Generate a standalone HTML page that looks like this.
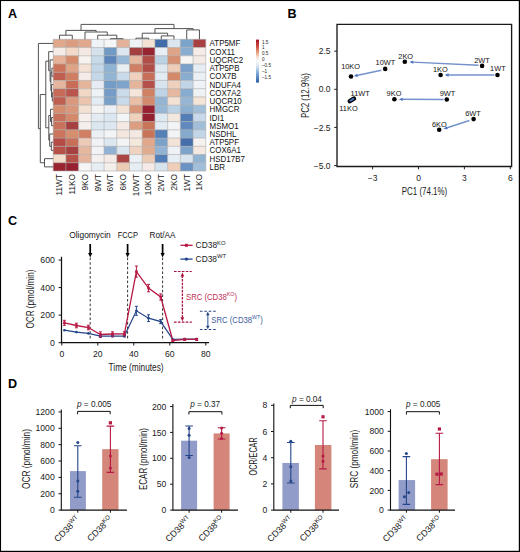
<!DOCTYPE html>
<html><head><meta charset="utf-8"><style>
html,body{margin:0;padding:0;background:#fff;}
body{width:520px;height:552px;overflow:hidden;}
svg{display:block;font-family:"Liberation Sans", sans-serif;}
</style></head><body>
<svg width="520" height="552" viewBox="0 0 520 552">
<rect width="520" height="552" fill="#fff"/>
<g id="panelA">
<text x="8" y="18.2" font-size="12.6" font-weight="bold" fill="#000">A</text>
<rect x="53.20" y="39.30" width="12.72" height="8.23" fill="#e0a88b"/>
<rect x="65.92" y="39.30" width="12.72" height="8.23" fill="#da9d80"/>
<rect x="78.63" y="39.30" width="12.72" height="8.23" fill="#e0a88c"/>
<rect x="91.35" y="39.30" width="12.72" height="8.23" fill="#eff2f6"/>
<rect x="104.07" y="39.30" width="12.72" height="8.23" fill="#f4f6f8"/>
<rect x="116.78" y="39.30" width="12.72" height="8.23" fill="#e3b299"/>
<rect x="129.50" y="39.30" width="12.72" height="8.23" fill="#eef2f6"/>
<rect x="142.22" y="39.30" width="12.72" height="8.23" fill="#f3e1d3"/>
<rect x="154.93" y="39.30" width="12.72" height="8.23" fill="#416ba9"/>
<rect x="167.65" y="39.30" width="12.72" height="8.23" fill="#dce6f0"/>
<rect x="180.37" y="39.30" width="12.72" height="8.23" fill="#7ca3ca"/>
<rect x="193.08" y="39.30" width="12.72" height="8.23" fill="#a74042"/>
<rect x="53.20" y="47.53" width="12.72" height="8.23" fill="#f6ece7"/>
<rect x="65.92" y="47.53" width="12.72" height="8.23" fill="#f2d9c8"/>
<rect x="78.63" y="47.53" width="12.72" height="8.23" fill="#f4e9e2"/>
<rect x="91.35" y="47.53" width="12.72" height="8.23" fill="#d5e2ed"/>
<rect x="104.07" y="47.53" width="12.72" height="8.23" fill="#719ac5"/>
<rect x="116.78" y="47.53" width="12.72" height="8.23" fill="#dbe6f0"/>
<rect x="129.50" y="47.53" width="12.72" height="8.23" fill="#a54041"/>
<rect x="142.22" y="47.53" width="12.72" height="8.23" fill="#962431"/>
<rect x="154.93" y="47.53" width="12.72" height="8.23" fill="#e9eef5"/>
<rect x="167.65" y="47.53" width="12.72" height="8.23" fill="#dfa387"/>
<rect x="180.37" y="47.53" width="12.72" height="8.23" fill="#8aaed0"/>
<rect x="193.08" y="47.53" width="12.72" height="8.23" fill="#f5ece7"/>
<rect x="53.20" y="55.76" width="12.72" height="8.23" fill="#e5b297"/>
<rect x="65.92" y="55.76" width="12.72" height="8.23" fill="#d58b69"/>
<rect x="78.63" y="55.76" width="12.72" height="8.23" fill="#f5f2f0"/>
<rect x="91.35" y="55.76" width="12.72" height="8.23" fill="#c6daea"/>
<rect x="104.07" y="55.76" width="12.72" height="8.23" fill="#5c85bc"/>
<rect x="116.78" y="55.76" width="12.72" height="8.23" fill="#98b8d7"/>
<rect x="129.50" y="55.76" width="12.72" height="8.23" fill="#e6b8a0"/>
<rect x="142.22" y="55.76" width="12.72" height="8.23" fill="#b04d47"/>
<rect x="154.93" y="55.76" width="12.72" height="8.23" fill="#bbd2e5"/>
<rect x="167.65" y="55.76" width="12.72" height="8.23" fill="#d69071"/>
<rect x="180.37" y="55.76" width="12.72" height="8.23" fill="#f6f5f4"/>
<rect x="193.08" y="55.76" width="12.72" height="8.23" fill="#f5ebe6"/>
<rect x="53.20" y="63.99" width="12.72" height="8.23" fill="#cc7459"/>
<rect x="65.92" y="63.99" width="12.72" height="8.23" fill="#dfa385"/>
<rect x="78.63" y="63.99" width="12.72" height="8.23" fill="#f4e1d3"/>
<rect x="91.35" y="63.99" width="12.72" height="8.23" fill="#c3d7e8"/>
<rect x="104.07" y="63.99" width="12.72" height="8.23" fill="#8fb3d3"/>
<rect x="116.78" y="63.99" width="12.72" height="8.23" fill="#e7eef4"/>
<rect x="129.50" y="63.99" width="12.72" height="8.23" fill="#d07f64"/>
<rect x="142.22" y="63.99" width="12.72" height="8.23" fill="#b24e48"/>
<rect x="154.93" y="63.99" width="12.72" height="8.23" fill="#dee8f1"/>
<rect x="167.65" y="63.99" width="12.72" height="8.23" fill="#edcdb8"/>
<rect x="180.37" y="63.99" width="12.72" height="8.23" fill="#7aa1c9"/>
<rect x="193.08" y="63.99" width="12.72" height="8.23" fill="#e7edf4"/>
<rect x="53.20" y="72.22" width="12.72" height="8.23" fill="#c05f50"/>
<rect x="65.92" y="72.22" width="12.72" height="8.23" fill="#d07e62"/>
<rect x="78.63" y="72.22" width="12.72" height="8.23" fill="#f5ebe7"/>
<rect x="91.35" y="72.22" width="12.72" height="8.23" fill="#c5d8e9"/>
<rect x="104.07" y="72.22" width="12.72" height="8.23" fill="#92b4d3"/>
<rect x="116.78" y="72.22" width="12.72" height="8.23" fill="#c9daea"/>
<rect x="129.50" y="72.22" width="12.72" height="8.23" fill="#efd1be"/>
<rect x="142.22" y="72.22" width="12.72" height="8.23" fill="#c86f59"/>
<rect x="154.93" y="72.22" width="12.72" height="8.23" fill="#e4ecf3"/>
<rect x="167.65" y="72.22" width="12.72" height="8.23" fill="#d4896a"/>
<rect x="180.37" y="72.22" width="12.72" height="8.23" fill="#89adcf"/>
<rect x="193.08" y="72.22" width="12.72" height="8.23" fill="#ebf0f5"/>
<rect x="53.20" y="80.46" width="12.72" height="8.23" fill="#e6b59d"/>
<rect x="65.92" y="80.46" width="12.72" height="8.23" fill="#c86e58"/>
<rect x="78.63" y="80.46" width="12.72" height="8.23" fill="#e4b49b"/>
<rect x="91.35" y="80.46" width="12.72" height="8.23" fill="#e5ecf3"/>
<rect x="104.07" y="80.46" width="12.72" height="8.23" fill="#739cc6"/>
<rect x="116.78" y="80.46" width="12.72" height="8.23" fill="#7fa4cb"/>
<rect x="129.50" y="80.46" width="12.72" height="8.23" fill="#e5b59b"/>
<rect x="142.22" y="80.46" width="12.72" height="8.23" fill="#b4514a"/>
<rect x="154.93" y="80.46" width="12.72" height="8.23" fill="#d8e5ef"/>
<rect x="167.65" y="80.46" width="12.72" height="8.23" fill="#efd0bc"/>
<rect x="180.37" y="80.46" width="12.72" height="8.23" fill="#c1d5e7"/>
<rect x="193.08" y="80.46" width="12.72" height="8.23" fill="#eff2f6"/>
<rect x="53.20" y="88.69" width="12.72" height="8.23" fill="#c66b58"/>
<rect x="65.92" y="88.69" width="12.72" height="8.23" fill="#b9554c"/>
<rect x="78.63" y="88.69" width="12.72" height="8.23" fill="#f1d7c6"/>
<rect x="91.35" y="88.69" width="12.72" height="8.23" fill="#eff2f6"/>
<rect x="104.07" y="88.69" width="12.72" height="8.23" fill="#749cc6"/>
<rect x="116.78" y="88.69" width="12.72" height="8.23" fill="#cadbea"/>
<rect x="129.50" y="88.69" width="12.72" height="8.23" fill="#f5e5db"/>
<rect x="142.22" y="88.69" width="12.72" height="8.23" fill="#d08063"/>
<rect x="154.93" y="88.69" width="12.72" height="8.23" fill="#bfd4e7"/>
<rect x="167.65" y="88.69" width="12.72" height="8.23" fill="#e6b89f"/>
<rect x="180.37" y="88.69" width="12.72" height="8.23" fill="#88accf"/>
<rect x="193.08" y="88.69" width="12.72" height="8.23" fill="#f0f3f6"/>
<rect x="53.20" y="96.92" width="12.72" height="8.23" fill="#be5f52"/>
<rect x="65.92" y="96.92" width="12.72" height="8.23" fill="#da997d"/>
<rect x="78.63" y="96.92" width="12.72" height="8.23" fill="#eac4ad"/>
<rect x="91.35" y="96.92" width="12.72" height="8.23" fill="#e3ebf3"/>
<rect x="104.07" y="96.92" width="12.72" height="8.23" fill="#789fc8"/>
<rect x="116.78" y="96.92" width="12.72" height="8.23" fill="#c8daea"/>
<rect x="129.50" y="96.92" width="12.72" height="8.23" fill="#e9bfa7"/>
<rect x="142.22" y="96.92" width="12.72" height="8.23" fill="#d3896c"/>
<rect x="154.93" y="96.92" width="12.72" height="8.23" fill="#94b4d3"/>
<rect x="167.65" y="96.92" width="12.72" height="8.23" fill="#f4e2d5"/>
<rect x="180.37" y="96.92" width="12.72" height="8.23" fill="#96b6d4"/>
<rect x="193.08" y="96.92" width="12.72" height="8.23" fill="#f4e3d7"/>
<rect x="53.20" y="105.15" width="12.72" height="8.23" fill="#d58d6f"/>
<rect x="65.92" y="105.15" width="12.72" height="8.23" fill="#d9987c"/>
<rect x="78.63" y="105.15" width="12.72" height="8.23" fill="#f3e1d4"/>
<rect x="91.35" y="105.15" width="12.72" height="8.23" fill="#f4f4f5"/>
<rect x="104.07" y="105.15" width="12.72" height="8.23" fill="#e9eff5"/>
<rect x="116.78" y="105.15" width="12.72" height="8.23" fill="#f3e3d7"/>
<rect x="129.50" y="105.15" width="12.72" height="8.23" fill="#d89578"/>
<rect x="142.22" y="105.15" width="12.72" height="8.23" fill="#962130"/>
<rect x="154.93" y="105.15" width="12.72" height="8.23" fill="#97b7d5"/>
<rect x="167.65" y="105.15" width="12.72" height="8.23" fill="#bbd2e5"/>
<rect x="180.37" y="105.15" width="12.72" height="8.23" fill="#8bafd0"/>
<rect x="193.08" y="105.15" width="12.72" height="8.23" fill="#a1bfd9"/>
<rect x="53.20" y="113.38" width="12.72" height="8.23" fill="#c7705b"/>
<rect x="65.92" y="113.38" width="12.72" height="8.23" fill="#d4896a"/>
<rect x="78.63" y="113.38" width="12.72" height="8.23" fill="#f6efeb"/>
<rect x="91.35" y="113.38" width="12.72" height="8.23" fill="#e3ebf3"/>
<rect x="104.07" y="113.38" width="12.72" height="8.23" fill="#dae6f0"/>
<rect x="116.78" y="113.38" width="12.72" height="8.23" fill="#f3f4f6"/>
<rect x="129.50" y="113.38" width="12.72" height="8.23" fill="#efd0bb"/>
<rect x="142.22" y="113.38" width="12.72" height="8.23" fill="#942130"/>
<rect x="154.93" y="113.38" width="12.72" height="8.23" fill="#dee8f1"/>
<rect x="167.65" y="113.38" width="12.72" height="8.23" fill="#f4e7de"/>
<rect x="180.37" y="113.38" width="12.72" height="8.23" fill="#537eb6"/>
<rect x="193.08" y="113.38" width="12.72" height="8.23" fill="#c6d8e9"/>
<rect x="53.20" y="121.61" width="12.72" height="8.23" fill="#c9725b"/>
<rect x="65.92" y="121.61" width="12.72" height="8.23" fill="#a53f41"/>
<rect x="78.63" y="121.61" width="12.72" height="8.23" fill="#f6eeeb"/>
<rect x="91.35" y="121.61" width="12.72" height="8.23" fill="#dae6f0"/>
<rect x="104.07" y="121.61" width="12.72" height="8.23" fill="#dce7f0"/>
<rect x="116.78" y="121.61" width="12.72" height="8.23" fill="#f4e9e3"/>
<rect x="129.50" y="121.61" width="12.72" height="8.23" fill="#dc9d80"/>
<rect x="142.22" y="121.61" width="12.72" height="8.23" fill="#c87458"/>
<rect x="154.93" y="121.61" width="12.72" height="8.23" fill="#e4ecf3"/>
<rect x="167.65" y="121.61" width="12.72" height="8.23" fill="#f3f4f6"/>
<rect x="180.37" y="121.61" width="12.72" height="8.23" fill="#6189be"/>
<rect x="193.08" y="121.61" width="12.72" height="8.23" fill="#a1bed9"/>
<rect x="53.20" y="129.84" width="12.72" height="8.23" fill="#ca755c"/>
<rect x="65.92" y="129.84" width="12.72" height="8.23" fill="#d68e6e"/>
<rect x="78.63" y="129.84" width="12.72" height="8.23" fill="#d07f62"/>
<rect x="91.35" y="129.84" width="12.72" height="8.23" fill="#ebf0f5"/>
<rect x="104.07" y="129.84" width="12.72" height="8.23" fill="#f3f4f6"/>
<rect x="116.78" y="129.84" width="12.72" height="8.23" fill="#f4e7de"/>
<rect x="129.50" y="129.84" width="12.72" height="8.23" fill="#f4e9e2"/>
<rect x="142.22" y="129.84" width="12.72" height="8.23" fill="#c97459"/>
<rect x="154.93" y="129.84" width="12.72" height="8.23" fill="#557fb7"/>
<rect x="167.65" y="129.84" width="12.72" height="8.23" fill="#f2f3f6"/>
<rect x="180.37" y="129.84" width="12.72" height="8.23" fill="#85aace"/>
<rect x="193.08" y="129.84" width="12.72" height="8.23" fill="#c3d6e8"/>
<rect x="53.20" y="138.07" width="12.72" height="8.23" fill="#b44b46"/>
<rect x="65.92" y="138.07" width="12.72" height="8.23" fill="#c76f58"/>
<rect x="78.63" y="138.07" width="12.72" height="8.23" fill="#eccab7"/>
<rect x="91.35" y="138.07" width="12.72" height="8.23" fill="#f0f2f5"/>
<rect x="104.07" y="138.07" width="12.72" height="8.23" fill="#dde7f0"/>
<rect x="116.78" y="138.07" width="12.72" height="8.23" fill="#f4f4f5"/>
<rect x="129.50" y="138.07" width="12.72" height="8.23" fill="#f4e7dc"/>
<rect x="142.22" y="138.07" width="12.72" height="8.23" fill="#e1a88c"/>
<rect x="154.93" y="138.07" width="12.72" height="8.23" fill="#7ca2c9"/>
<rect x="167.65" y="138.07" width="12.72" height="8.23" fill="#f3e3d6"/>
<rect x="180.37" y="138.07" width="12.72" height="8.23" fill="#456eab"/>
<rect x="193.08" y="138.07" width="12.72" height="8.23" fill="#f6f2ef"/>
<rect x="53.20" y="146.31" width="12.72" height="8.23" fill="#b65049"/>
<rect x="65.92" y="146.31" width="12.72" height="8.23" fill="#a74041"/>
<rect x="78.63" y="146.31" width="12.72" height="8.23" fill="#e5b79e"/>
<rect x="91.35" y="146.31" width="12.72" height="8.23" fill="#f2f3f6"/>
<rect x="104.07" y="146.31" width="12.72" height="8.23" fill="#91b2d2"/>
<rect x="116.78" y="146.31" width="12.72" height="8.23" fill="#dbe6f0"/>
<rect x="129.50" y="146.31" width="12.72" height="8.23" fill="#efd2bf"/>
<rect x="142.22" y="146.31" width="12.72" height="8.23" fill="#e1ab90"/>
<rect x="154.93" y="146.31" width="12.72" height="8.23" fill="#92b3d3"/>
<rect x="167.65" y="146.31" width="12.72" height="8.23" fill="#eef1f6"/>
<rect x="180.37" y="146.31" width="12.72" height="8.23" fill="#7da3ca"/>
<rect x="193.08" y="146.31" width="12.72" height="8.23" fill="#f4e8e0"/>
<rect x="53.20" y="154.54" width="12.72" height="8.23" fill="#f3ddcb"/>
<rect x="65.92" y="154.54" width="12.72" height="8.23" fill="#b65149"/>
<rect x="78.63" y="154.54" width="12.72" height="8.23" fill="#e4b59c"/>
<rect x="91.35" y="154.54" width="12.72" height="8.23" fill="#f4f0ef"/>
<rect x="104.07" y="154.54" width="12.72" height="8.23" fill="#f5eae5"/>
<rect x="116.78" y="154.54" width="12.72" height="8.23" fill="#aa4643"/>
<rect x="129.50" y="154.54" width="12.72" height="8.23" fill="#ebf0f5"/>
<rect x="142.22" y="154.54" width="12.72" height="8.23" fill="#eccbb6"/>
<rect x="154.93" y="154.54" width="12.72" height="8.23" fill="#527db6"/>
<rect x="167.65" y="154.54" width="12.72" height="8.23" fill="#e7eef4"/>
<rect x="180.37" y="154.54" width="12.72" height="8.23" fill="#d8e5ef"/>
<rect x="193.08" y="154.54" width="12.72" height="8.23" fill="#92b4d3"/>
<rect x="53.20" y="162.77" width="12.72" height="8.23" fill="#992330"/>
<rect x="65.92" y="162.77" width="12.72" height="8.23" fill="#962130"/>
<rect x="78.63" y="162.77" width="12.72" height="8.23" fill="#f5f5f5"/>
<rect x="91.35" y="162.77" width="12.72" height="8.23" fill="#e6edf3"/>
<rect x="104.07" y="162.77" width="12.72" height="8.23" fill="#f5efeb"/>
<rect x="116.78" y="162.77" width="12.72" height="8.23" fill="#edccb6"/>
<rect x="129.50" y="162.77" width="12.72" height="8.23" fill="#e6edf3"/>
<rect x="142.22" y="162.77" width="12.72" height="8.23" fill="#f5eae5"/>
<rect x="154.93" y="162.77" width="12.72" height="8.23" fill="#d7e4ee"/>
<rect x="167.65" y="162.77" width="12.72" height="8.23" fill="#eeceb8"/>
<rect x="180.37" y="162.77" width="12.72" height="8.23" fill="#6a92c2"/>
<rect x="193.08" y="162.77" width="12.72" height="8.23" fill="#a2bfd9"/>
<path d="M53.20 39.30V171.00M65.92 39.30V171.00M78.63 39.30V171.00M91.35 39.30V171.00M104.07 39.30V171.00M116.78 39.30V171.00M129.50 39.30V171.00M142.22 39.30V171.00M154.93 39.30V171.00M167.65 39.30V171.00M180.37 39.30V171.00M193.08 39.30V171.00M205.80 39.30V171.00M53.20 39.30H205.80M53.20 47.53H205.80M53.20 55.76H205.80M53.20 63.99H205.80M53.20 72.22H205.80M53.20 80.46H205.80M53.20 88.69H205.80M53.20 96.92H205.80M53.20 105.15H205.80M53.20 113.38H205.80M53.20 121.61H205.80M53.20 129.84H205.80M53.20 138.07H205.80M53.20 146.31H205.80M53.20 154.54H205.80M53.20 162.77H205.80M53.20 171.00H205.80" stroke="#a9a9a9" stroke-width="0.6" fill="none"/>
<text transform="translate(209.6,46.47) scale(0.94,1)" font-size="8.45" fill="#111">ATP5MF</text>
<text transform="translate(209.6,54.70) scale(0.94,1)" font-size="8.45" fill="#111">COX11</text>
<text transform="translate(209.6,62.93) scale(0.94,1)" font-size="8.45" fill="#111">UQCRC2</text>
<text transform="translate(209.6,71.16) scale(0.94,1)" font-size="8.45" fill="#111">ATP5PB</text>
<text transform="translate(209.6,79.39) scale(0.94,1)" font-size="8.45" fill="#111">COX7B</text>
<text transform="translate(209.6,87.62) scale(0.94,1)" font-size="8.45" fill="#111">NDUFA4</text>
<text transform="translate(209.6,95.85) scale(0.94,1)" font-size="8.45" fill="#111">COX7A2</text>
<text transform="translate(209.6,104.08) scale(0.94,1)" font-size="8.45" fill="#111">UQCR10</text>
<text transform="translate(209.6,112.32) scale(0.94,1)" font-size="8.45" fill="#111">HMGCR</text>
<text transform="translate(209.6,120.55) scale(0.94,1)" font-size="8.45" fill="#111">IDI1</text>
<text transform="translate(209.6,128.78) scale(0.94,1)" font-size="8.45" fill="#111">MSMO1</text>
<text transform="translate(209.6,137.01) scale(0.94,1)" font-size="8.45" fill="#111">NSDHL</text>
<text transform="translate(209.6,145.24) scale(0.94,1)" font-size="8.45" fill="#111">ATP5PF</text>
<text transform="translate(209.6,153.47) scale(0.94,1)" font-size="8.45" fill="#111">COX6A1</text>
<text transform="translate(209.6,161.70) scale(0.94,1)" font-size="8.45" fill="#111">HSD17B7</text>
<text transform="translate(209.6,169.93) scale(0.94,1)" font-size="8.45" fill="#111">LBR</text>
<text transform="translate(62.46,174.0) rotate(-90)" text-anchor="end" font-size="8.3" fill="#1a1a1a">11WT</text>
<text transform="translate(75.18,174.0) rotate(-90)" text-anchor="end" font-size="8.3" fill="#1a1a1a">11KO</text>
<text transform="translate(87.89,174.0) rotate(-90)" text-anchor="end" font-size="8.3" fill="#1a1a1a">9KO</text>
<text transform="translate(100.61,174.0) rotate(-90)" text-anchor="end" font-size="8.3" fill="#1a1a1a">9WT</text>
<text transform="translate(113.33,174.0) rotate(-90)" text-anchor="end" font-size="8.3" fill="#1a1a1a">6WT</text>
<text transform="translate(126.04,174.0) rotate(-90)" text-anchor="end" font-size="8.3" fill="#1a1a1a">6KO</text>
<text transform="translate(138.76,174.0) rotate(-90)" text-anchor="end" font-size="8.3" fill="#1a1a1a">10WT</text>
<text transform="translate(151.48,174.0) rotate(-90)" text-anchor="end" font-size="8.3" fill="#1a1a1a">10KO</text>
<text transform="translate(164.19,174.0) rotate(-90)" text-anchor="end" font-size="8.3" fill="#1a1a1a">2WT</text>
<text transform="translate(176.91,174.0) rotate(-90)" text-anchor="end" font-size="8.3" fill="#1a1a1a">2KO</text>
<text transform="translate(189.63,174.0) rotate(-90)" text-anchor="end" font-size="8.3" fill="#1a1a1a">1WT</text>
<text transform="translate(202.34,174.0) rotate(-90)" text-anchor="end" font-size="8.3" fill="#1a1a1a">1KO</text>
<path d="M110.43 39.30V38.70H123.14V39.30M97.71 39.30V35.20H116.78V38.70M84.99 39.30V32.00H107.25V35.20M59.56 39.30V35.20H72.28V39.30M65.92 35.20V30.40H96.12V32.00M135.86 39.30V38.20H148.58V39.30M161.29 39.30V35.90H174.01V39.30M142.22 38.20V33.20H167.65V35.90M186.73 39.30V29.90H199.44V39.30M154.93 33.20V28.60H193.08V29.90M81.02 30.40V24.40H174.01V28.60" stroke="#4a4a4a" stroke-width="0.95" fill="none"/>
<path d="M53.20 92.80H52.30V101.03H53.20M53.20 84.57H51.60V96.92H52.30M53.20 68.11H51.90V76.34H53.20M51.90 72.22H50.90V90.75H51.60M53.20 59.88H50.10V81.49H50.90M53.20 51.65H48.70V70.68H50.10M53.20 117.50H51.60V125.73H53.20M53.20 109.27H50.50V121.61H51.60M53.20 142.19H51.30V150.42H53.20M53.20 133.96H49.70V146.31H51.30M50.50 115.44H48.80V140.13H49.70M48.70 61.16H45.80V127.79H48.80M53.20 158.65H44.50V166.88H53.20M45.80 94.48H40.30V162.77H44.50M53.20 43.42H38.40V128.62H40.30" stroke="#4a4a4a" stroke-width="0.95" fill="none"/>
<defs><linearGradient id="cbar" x1="0" y1="0" x2="0" y2="1"><stop offset="0" stop-color="#a50f26"/><stop offset="0.15" stop-color="#cc4a3e"/><stop offset="0.3" stop-color="#e8a07e"/><stop offset="0.42" stop-color="#f7e6dc"/><stop offset="0.5" stop-color="#f7f7f7"/><stop offset="0.62" stop-color="#d6e6f3"/><stop offset="0.78" stop-color="#7eaad6"/><stop offset="1" stop-color="#2c5ea8"/></linearGradient></defs>
<rect x="256" y="39.6" width="3" height="43" fill="url(#cbar)"/>
<text x="262.0" y="43.55" font-size="4.6" fill="#1a1a1a">1.5</text>
<text x="262.0" y="48.95" font-size="4.6" fill="#1a1a1a">1</text>
<text x="262.0" y="54.85" font-size="4.6" fill="#1a1a1a">0.5</text>
<text x="262.0" y="61.05" font-size="4.6" fill="#1a1a1a">0</text>
<text x="262.0" y="66.85" font-size="4.6" fill="#1a1a1a">–0.5</text>
<text x="262.0" y="72.75" font-size="4.6" fill="#1a1a1a">–1</text>
<text x="262.0" y="78.85" font-size="4.6" fill="#1a1a1a">–1.5</text>
</g>
<g id="panelB">
<text x="287.6" y="18" font-size="12.6" font-weight="bold" fill="#000">B</text>
<path d="M337 24.4H511.6V166.5H337Z" stroke="#1a1a1a" stroke-width="1.35" fill="none"/>
<path d="M334.2 51.17H337" stroke="#222" stroke-width="1"/>
<text x="330.6" y="54.27" text-anchor="end" font-size="8.5" fill="#1a1a1a">2.5</text>
<path d="M334.2 89.30H337" stroke="#222" stroke-width="1"/>
<text x="330.6" y="92.40" text-anchor="end" font-size="8.5" fill="#1a1a1a">0.0</text>
<path d="M334.2 127.42H337" stroke="#222" stroke-width="1"/>
<text x="330.6" y="130.53" text-anchor="end" font-size="8.5" fill="#1a1a1a">−2.5</text>
<path d="M334.2 165.55H337" stroke="#222" stroke-width="1"/>
<text x="330.6" y="168.65" text-anchor="end" font-size="8.5" fill="#1a1a1a">−5.0</text>
<path d="M372.60 166.5V169.3" stroke="#222" stroke-width="1"/>
<text x="372.60" y="180.8" text-anchor="middle" font-size="8.5" fill="#1a1a1a">−3</text>
<path d="M418.50 166.5V169.3" stroke="#222" stroke-width="1"/>
<text x="418.50" y="180.8" text-anchor="middle" font-size="8.5" fill="#1a1a1a">0</text>
<path d="M464.40 166.5V169.3" stroke="#222" stroke-width="1"/>
<text x="464.40" y="180.8" text-anchor="middle" font-size="8.5" fill="#1a1a1a">3</text>
<path d="M510.30 166.5V169.3" stroke="#222" stroke-width="1"/>
<text x="510.30" y="180.8" text-anchor="middle" font-size="8.5" fill="#1a1a1a">6</text>
<text x="424.5" y="194.9" text-anchor="middle" font-size="10" fill="#1a1a1a" textLength="45.5" lengthAdjust="spacingAndGlyphs">PC1 (74.1%)</text>
<text transform="translate(308.9,95.6) rotate(-90)" text-anchor="middle" font-size="10" fill="#1a1a1a" textLength="45" lengthAdjust="spacingAndGlyphs">PC2 (12.9%)</text>
<path d="M381.30 70.30L356.73 75.46" stroke="#7391cc" stroke-width="1.45" fill="none"/><path d="M353.70 76.10L357.18 73.68L357.86 76.91Z" fill="#4f73c0"/>
<path d="M478.50 65.30L412.50 62.15" stroke="#7391cc" stroke-width="1.45" fill="none"/><path d="M409.40 62.00L413.37 60.54L413.22 63.83Z" fill="#4f73c0"/>
<path d="M494.40 75.00L447.80 75.00" stroke="#7391cc" stroke-width="1.45" fill="none"/><path d="M444.70 75.00L448.60 73.35L448.60 76.65Z" fill="#4f73c0"/>
<path d="M443.50 99.50L401.90 99.31" stroke="#7391cc" stroke-width="1.45" fill="none"/><path d="M398.80 99.30L402.71 97.67L402.69 100.97Z" fill="#4f73c0"/>
<path d="M469.40 120.50L446.45 128.03" stroke="#7391cc" stroke-width="1.45" fill="none"/><path d="M443.50 129.00L446.69 126.22L447.72 129.35Z" fill="#4f73c0"/>
<circle cx="404.8" cy="61.8" r="2.3" fill="#000"/>
<circle cx="385.2" cy="68.9" r="2.3" fill="#000"/>
<circle cx="351.0" cy="76.5" r="2.3" fill="#000"/>
<circle cx="482.1" cy="65.9" r="2.3" fill="#000"/>
<circle cx="440.6" cy="75.0" r="2.3" fill="#000"/>
<circle cx="497.5" cy="75.0" r="2.3" fill="#000"/>
<circle cx="394.4" cy="99.3" r="2.3" fill="#000"/>
<circle cx="446.8" cy="99.5" r="2.3" fill="#000"/>
<circle cx="473.6" cy="119.1" r="2.3" fill="#000"/>
<circle cx="439.2" cy="129.8" r="2.3" fill="#000"/>
<path d="M349.8 101.1L353.9 98.6" stroke="#000" stroke-width="4.6" stroke-linecap="round"/>
<path d="M350.4 100.8L353.4 98.9" stroke="#4a74c4" stroke-width="1.9" stroke-linecap="round"/>
<text x="405.7" y="59.0" text-anchor="middle" font-size="7.4" fill="#111">2KO</text>
<text x="385.4" y="65.4" text-anchor="middle" font-size="7.4" fill="#111">10WT</text>
<text x="350.6" y="68.7" text-anchor="middle" font-size="7.4" fill="#111">10KO</text>
<text x="482.0" y="62.7" text-anchor="middle" font-size="7.4" fill="#111">2WT</text>
<text x="440.3" y="72.0" text-anchor="middle" font-size="7.4" fill="#111">1KO</text>
<text x="497.9" y="71.2" text-anchor="middle" font-size="7.4" fill="#111">1WT</text>
<text x="394.0" y="96.3" text-anchor="middle" font-size="7.4" fill="#111">9KO</text>
<text x="447.5" y="96.3" text-anchor="middle" font-size="7.4" fill="#111">9WT</text>
<text x="473.0" y="116.3" text-anchor="middle" font-size="7.4" fill="#111">6WT</text>
<text x="439.3" y="126.7" text-anchor="middle" font-size="7.4" fill="#111">6KO</text>
<text x="360.2" y="95.6" text-anchor="middle" font-size="7.4" fill="#111">11WT</text>
<text x="348.5" y="110.7" text-anchor="middle" font-size="7.4" fill="#111">11KO</text>
</g>
<g id="panelC">
<text x="8.0" y="225.2" font-size="12.6" font-weight="bold" fill="#000">C</text>
<path d="M61.5 256.8V342.7H209" stroke="#111" stroke-width="1.25" fill="none"/>
<path d="M58.6 342.70H61.5" stroke="#111" stroke-width="1"/>
<text x="54.8" y="345.80" text-anchor="end" font-size="8.7" fill="#1a1a1a">0</text>
<path d="M58.6 315.14H61.5" stroke="#111" stroke-width="1"/>
<text x="54.8" y="318.24" text-anchor="end" font-size="8.7" fill="#1a1a1a">200</text>
<path d="M58.6 287.58H61.5" stroke="#111" stroke-width="1"/>
<text x="54.8" y="290.68" text-anchor="end" font-size="8.7" fill="#1a1a1a">400</text>
<path d="M58.6 260.02H61.5" stroke="#111" stroke-width="1"/>
<text x="54.8" y="263.12" text-anchor="end" font-size="8.7" fill="#1a1a1a">600</text>
<path d="M61.80 342.7V345.5" stroke="#111" stroke-width="1"/>
<text x="61.80" y="357" text-anchor="middle" font-size="8.6" fill="#1a1a1a">0</text>
<path d="M97.80 342.7V345.5" stroke="#111" stroke-width="1"/>
<text x="97.80" y="357" text-anchor="middle" font-size="8.6" fill="#1a1a1a">20</text>
<path d="M133.80 342.7V345.5" stroke="#111" stroke-width="1"/>
<text x="133.80" y="357" text-anchor="middle" font-size="8.6" fill="#1a1a1a">40</text>
<path d="M169.80 342.7V345.5" stroke="#111" stroke-width="1"/>
<text x="169.80" y="357" text-anchor="middle" font-size="8.6" fill="#1a1a1a">60</text>
<path d="M205.80 342.7V345.5" stroke="#111" stroke-width="1"/>
<text x="205.80" y="357" text-anchor="middle" font-size="8.6" fill="#1a1a1a">80</text>
<text x="136.1" y="371" text-anchor="middle" font-size="10" fill="#1a1a1a" textLength="55" lengthAdjust="spacingAndGlyphs">Time (minutes)</text>
<text transform="translate(34.4,299.1) rotate(-90)" text-anchor="middle" font-size="10" fill="#1a1a1a" textLength="59" lengthAdjust="spacingAndGlyphs">OCR (pmol/min)</text>
<path d="M90.2 244V254" stroke="#000" stroke-width="1.7"/>
<path d="M88.10000000000001 253L92.3 253L90.2 257.4Z" fill="#000"/>
<path d="M90.2 257.6V340.5" stroke="#333" stroke-width="1" stroke-dasharray="2.6 2"/>
<text x="90.0" y="238.4" text-anchor="middle" font-size="9.2" fill="#111" textLength="41.6" lengthAdjust="spacingAndGlyphs">Oligomycin</text>
<path d="M127.6 244V254" stroke="#000" stroke-width="1.7"/>
<path d="M125.5 253L129.7 253L127.6 257.4Z" fill="#000"/>
<path d="M127.6 257.6V340.5" stroke="#333" stroke-width="1" stroke-dasharray="2.6 2"/>
<text x="127.8" y="238.4" text-anchor="middle" font-size="9.2" fill="#111" textLength="20.3" lengthAdjust="spacingAndGlyphs">FCCP</text>
<path d="M162.6 244V254" stroke="#000" stroke-width="1.7"/>
<path d="M160.5 253L164.7 253L162.6 257.4Z" fill="#000"/>
<path d="M162.6 257.6V340.5" stroke="#333" stroke-width="1" stroke-dasharray="2.6 2"/>
<text x="162.5" y="238.4" text-anchor="middle" font-size="9.2" fill="#111" textLength="25.9" lengthAdjust="spacingAndGlyphs">Rot/AA</text>
<polyline points="64.4,330.2 76.4,332.1 88.4,333.4 100.4,336.2 112.5,336.1 124.4,336.1 136.4,310.8 148.5,318.2 160.7,321.6 172.8,339.4 184.7,339.0 196.7,339.0" stroke="#24468a" stroke-width="1.2" fill="none"/>
<polyline points="64.4,322.8 76.4,325.5 88.4,327.5 100.4,334.5 112.5,334.0 124.4,333.8 136.4,271.6 148.5,288.1 160.7,297.0 172.8,340.5 184.7,339.4 196.7,339.4" stroke="#b71a45" stroke-width="1.3" fill="none"/>
<path d="M100.4 335.2V337.2M98.9 335.2H101.9M98.9 337.2H101.9M112.5 335.3V336.9M111.0 335.3H114.0M111.0 336.9H114.0M124.4 335.3V336.9M122.9 335.3H125.9M122.9 336.9H125.9M136.4 306.3V315.3M134.9 306.3H137.9M134.9 315.3H137.9M148.5 314.8V321.6M147.0 314.8H150.0M147.0 321.6H150.0M160.7 319.6V323.6M159.2 319.6H162.2M159.2 323.6H162.2" stroke="#24468a" stroke-width="1" fill="none"/>
<circle cx="64.4" cy="330.2" r="1.3" fill="#24468a"/>
<circle cx="76.4" cy="332.1" r="1.3" fill="#24468a"/>
<circle cx="88.4" cy="333.4" r="1.3" fill="#24468a"/>
<circle cx="100.4" cy="336.2" r="1.3" fill="#24468a"/>
<circle cx="112.5" cy="336.1" r="1.3" fill="#24468a"/>
<circle cx="124.4" cy="336.1" r="1.3" fill="#24468a"/>
<circle cx="136.4" cy="310.8" r="1.3" fill="#24468a"/>
<circle cx="148.5" cy="318.2" r="1.3" fill="#24468a"/>
<circle cx="160.7" cy="321.6" r="1.3" fill="#24468a"/>
<circle cx="172.8" cy="339.4" r="1.3" fill="#24468a"/>
<circle cx="184.7" cy="339.0" r="1.3" fill="#24468a"/>
<circle cx="196.7" cy="339.0" r="1.3" fill="#24468a"/>
<path d="M64.4 320.3V325.3M62.9 320.3H65.9M62.9 325.3H65.9M76.4 323.2V327.8M74.9 323.2H77.9M74.9 327.8H77.9M88.4 325.2V329.8M86.9 325.2H89.9M86.9 329.8H89.9M100.4 331.9V337.1M98.9 331.9H101.9M98.9 337.1H101.9M112.5 331.8V336.2M111.0 331.8H114.0M111.0 336.2H114.0M124.4 331.7V335.9M122.9 331.7H125.9M122.9 335.9H125.9M136.4 266.0V277.2M134.9 266.0H137.9M134.9 277.2H137.9M148.5 284.4V291.8M147.0 284.4H150.0M147.0 291.8H150.0M160.7 293.9V300.1M159.2 293.9H162.2M159.2 300.1H162.2M172.8 339.7V341.3M171.3 339.7H174.3M171.3 341.3H174.3M184.7 338.4V340.4M183.2 338.4H186.2M183.2 340.4H186.2M196.7 338.4V340.4M195.2 338.4H198.2M195.2 340.4H198.2" stroke="#b71a45" stroke-width="1" fill="none"/>
<rect x="63.1" y="321.5" width="2.6" height="2.6" fill="#b71a45"/>
<rect x="75.1" y="324.2" width="2.6" height="2.6" fill="#b71a45"/>
<rect x="87.1" y="326.2" width="2.6" height="2.6" fill="#b71a45"/>
<rect x="99.1" y="333.2" width="2.6" height="2.6" fill="#b71a45"/>
<rect x="111.2" y="332.7" width="2.6" height="2.6" fill="#b71a45"/>
<rect x="123.1" y="332.5" width="2.6" height="2.6" fill="#b71a45"/>
<rect x="135.1" y="270.3" width="2.6" height="2.6" fill="#b71a45"/>
<rect x="147.2" y="286.8" width="2.6" height="2.6" fill="#b71a45"/>
<rect x="159.4" y="295.7" width="2.6" height="2.6" fill="#b71a45"/>
<rect x="171.5" y="339.2" width="2.6" height="2.6" fill="#b71a45"/>
<rect x="183.4" y="338.1" width="2.6" height="2.6" fill="#b71a45"/>
<rect x="195.4" y="338.1" width="2.6" height="2.6" fill="#b71a45"/>
<path d="M180.4 245.3H192.6" stroke="#b71a45" stroke-width="1.3"/><rect x="184.9" y="243.8" width="3" height="3" fill="#b71a45"/>
<path d="M180.4 259.1H192.6" stroke="#24468a" stroke-width="1.3"/><circle cx="186.4" cy="259.1" r="1.7" fill="#24468a"/>
<text x="195.6" y="248.0" font-size="8.3" fill="#1a1a1a" textLength="30" lengthAdjust="spacingAndGlyphs">CD38<tspan font-size="5.8" dy="-3.5">KO</tspan></text>
<text x="195.6" y="261.8" font-size="8.3" fill="#1a1a1a" textLength="30.5" lengthAdjust="spacingAndGlyphs">CD38<tspan font-size="5.8" dy="-3.5">WT</tspan></text>
<path d="M174 271.5H191.8M174 322.1H191.8" stroke="#ad1541" stroke-width="1.05" stroke-dasharray="2.6 1.3"/>
<path d="M182.4 275.5V318.4" stroke="#ad1541" stroke-width="1.3" stroke-dasharray="2.5 1.1"/>
<path d="M180.5 276.4L182.4 272.4L184.3 276.4ZM180.5 317.3L182.4 321.3L184.3 317.3Z" fill="#ad1541"/>
<text x="186" y="299.6" font-size="9" fill="#bf2d55" textLength="51" lengthAdjust="spacingAndGlyphs">SRC (CD38<tspan font-size="6.2" dy="-3.6">KO</tspan><tspan dy="3.6">)</tspan></text>
<path d="M199.9 311.3H217.5M199.9 329.5H217.5" stroke="#27437f" stroke-width="1.1" stroke-dasharray="2.6 1.8"/>
<path d="M207.8 314V327" stroke="#6a80b4" stroke-width="1.4"/>
<path d="M206 315.2L207.8 311.8L209.6 315.2ZM206 325.8L207.8 329.2L209.6 325.8Z" fill="#27437f"/>
<text x="211.3" y="322.9" font-size="9" fill="#3d5b9b" textLength="51.6" lengthAdjust="spacingAndGlyphs">SRC (CD38<tspan font-size="6.2" dy="-3.6">WT</tspan><tspan dy="3.6">)</tspan></text>
</g>
<g id="panelD">
<text x="7.9" y="387.8" font-size="12.6" font-weight="bold" fill="#000">D</text>
<rect x="70" y="471.08" width="15.90" height="39.02" fill="#929cc8"/>
<rect x="102.2" y="449.16" width="16.30" height="60.94" fill="#d5867a"/>
<path d="M61.3 409.5V510.1H126.9" stroke="#111" stroke-width="1.1" fill="none"/>
<path d="M58.5 510.10H61.3" stroke="#111" stroke-width="1"/>
<text x="54.699999999999996" y="513.20" text-anchor="end" font-size="8.6" fill="#1a1a1a">0</text>
<path d="M58.5 493.74H61.3" stroke="#111" stroke-width="1"/>
<text x="54.699999999999996" y="496.84" text-anchor="end" font-size="8.6" fill="#1a1a1a">200</text>
<path d="M58.5 477.38H61.3" stroke="#111" stroke-width="1"/>
<text x="54.699999999999996" y="480.48" text-anchor="end" font-size="8.6" fill="#1a1a1a">400</text>
<path d="M58.5 461.02H61.3" stroke="#111" stroke-width="1"/>
<text x="54.699999999999996" y="464.12" text-anchor="end" font-size="8.6" fill="#1a1a1a">600</text>
<path d="M58.5 444.66H61.3" stroke="#111" stroke-width="1"/>
<text x="54.699999999999996" y="447.76" text-anchor="end" font-size="8.6" fill="#1a1a1a">800</text>
<path d="M58.5 428.30H61.3" stroke="#111" stroke-width="1"/>
<text x="54.699999999999996" y="431.40" text-anchor="end" font-size="8.6" fill="#1a1a1a">1000</text>
<path d="M58.5 411.94H61.3" stroke="#111" stroke-width="1"/>
<text x="54.699999999999996" y="415.04" text-anchor="end" font-size="8.6" fill="#1a1a1a">1200</text>
<path d="M77.8 445.7V497.2M74.0 445.7H81.6M74.0 497.2H81.6" stroke="#24468a" stroke-width="1.1" fill="none"/>
<path d="M110.4 426.1V472.4M106.60000000000001 426.1H114.2M106.60000000000001 472.4H114.2" stroke="#b71a45" stroke-width="1.1" fill="none"/>
<circle cx="77.8" cy="442.4" r="1.5" fill="#24468a"/>
<circle cx="77.8" cy="480.9" r="1.5" fill="#24468a"/>
<circle cx="77.8" cy="491.3" r="1.5" fill="#24468a"/>
<rect x="108.80000000000001" y="421.2" width="3.2" height="3.2" fill="#b71a45"/>
<circle cx="110.4" cy="456.1" r="1.5" fill="#b71a45"/>
<circle cx="110.4" cy="468" r="1.5" fill="#b71a45"/>
<path d="M77.8 510.1V512.7" stroke="#111" stroke-width="1"/>
<text transform="translate(80.39999999999999,519.7) rotate(-45)" text-anchor="end" font-size="8.9" fill="#1a1a1a">CD38<tspan font-size="6.1" dy="-3.4">WT</tspan></text>
<path d="M110.4 510.1V512.7" stroke="#111" stroke-width="1"/>
<text transform="translate(113.0,519.7) rotate(-45)" text-anchor="end" font-size="8.9" fill="#1a1a1a">CD38<tspan font-size="6.1" dy="-3.4">KO</tspan></text>
<text transform="translate(29.6,459) rotate(-90)" text-anchor="middle" font-size="10" fill="#1a1a1a" textLength="60" lengthAdjust="spacingAndGlyphs">OCR (pmol/min)</text>
<text x="94.2" y="406.9" text-anchor="middle" font-size="8.2" fill="#1a1a1a"><tspan font-style="italic">p</tspan> = 0.005</text>
<path d="M77.6 414.2V411.4H110.2V414.2" stroke="#111" stroke-width="1" fill="none"/>
<rect x="181.1" y="440.69" width="16.00" height="69.41" fill="#929cc8"/>
<rect x="213.6" y="433.44" width="16.00" height="76.66" fill="#d5867a"/>
<path d="M172.9 404.1V510.1H238" stroke="#111" stroke-width="1.1" fill="none"/>
<path d="M170.1 510.10H172.9" stroke="#111" stroke-width="1"/>
<text x="166.3" y="513.20" text-anchor="end" font-size="8.6" fill="#1a1a1a">0</text>
<path d="M170.1 484.20H172.9" stroke="#111" stroke-width="1"/>
<text x="166.3" y="487.30" text-anchor="end" font-size="8.6" fill="#1a1a1a">50</text>
<path d="M170.1 458.30H172.9" stroke="#111" stroke-width="1"/>
<text x="166.3" y="461.40" text-anchor="end" font-size="8.6" fill="#1a1a1a">100</text>
<path d="M170.1 432.40H172.9" stroke="#111" stroke-width="1"/>
<text x="166.3" y="435.50" text-anchor="end" font-size="8.6" fill="#1a1a1a">150</text>
<path d="M170.1 406.50H172.9" stroke="#111" stroke-width="1"/>
<text x="166.3" y="409.60" text-anchor="end" font-size="8.6" fill="#1a1a1a">200</text>
<path d="M189.1 426V455.5M185.29999999999998 426H192.9M185.29999999999998 455.5H192.9" stroke="#24468a" stroke-width="1.1" fill="none"/>
<path d="M221.6 427.7V439M217.79999999999998 427.7H225.4M217.79999999999998 439H225.4" stroke="#b71a45" stroke-width="1.1" fill="none"/>
<circle cx="189.1" cy="428.6" r="1.5" fill="#24468a"/>
<circle cx="189.1" cy="435.2" r="1.5" fill="#24468a"/>
<circle cx="189.1" cy="457.6" r="1.5" fill="#24468a"/>
<circle cx="221.6" cy="427.9" r="1.5" fill="#b71a45"/>
<circle cx="221.6" cy="433.2" r="1.5" fill="#b71a45"/>
<circle cx="221.6" cy="438.6" r="1.5" fill="#b71a45"/>
<path d="M189.1 510.1V512.7" stroke="#111" stroke-width="1"/>
<text transform="translate(191.7,519.7) rotate(-45)" text-anchor="end" font-size="8.9" fill="#1a1a1a">CD38<tspan font-size="6.1" dy="-3.4">WT</tspan></text>
<path d="M221.6 510.1V512.7" stroke="#111" stroke-width="1"/>
<text transform="translate(224.2,519.7) rotate(-45)" text-anchor="end" font-size="8.9" fill="#1a1a1a">CD38<tspan font-size="6.1" dy="-3.4">KO</tspan></text>
<text transform="translate(146.5,459) rotate(-90)" text-anchor="middle" font-size="10" fill="#1a1a1a" textLength="62" lengthAdjust="spacingAndGlyphs">ECAR (pmol/min)</text>
<text x="205.2" y="406.9" text-anchor="middle" font-size="8.2" fill="#1a1a1a"><tspan font-style="italic">p</tspan> = 0.37</text>
<path d="M188.9 414.5V411.7H221.9V414.5" stroke="#111" stroke-width="1" fill="none"/>
<rect x="282.4" y="462.94" width="16.50" height="47.16" fill="#929cc8"/>
<rect x="314.9" y="444.99" width="16.50" height="65.11" fill="#d5867a"/>
<path d="M273.8 403.4V510.1H339" stroke="#111" stroke-width="1.1" fill="none"/>
<path d="M271.0 510.10H273.8" stroke="#111" stroke-width="1"/>
<text x="267.2" y="513.20" text-anchor="end" font-size="8.6" fill="#1a1a1a">0</text>
<path d="M271.0 483.90H273.8" stroke="#111" stroke-width="1"/>
<text x="267.2" y="487.00" text-anchor="end" font-size="8.6" fill="#1a1a1a">2</text>
<path d="M271.0 457.70H273.8" stroke="#111" stroke-width="1"/>
<text x="267.2" y="460.80" text-anchor="end" font-size="8.6" fill="#1a1a1a">4</text>
<path d="M271.0 431.50H273.8" stroke="#111" stroke-width="1"/>
<text x="267.2" y="434.60" text-anchor="end" font-size="8.6" fill="#1a1a1a">6</text>
<path d="M271.0 405.30H273.8" stroke="#111" stroke-width="1"/>
<text x="267.2" y="408.40" text-anchor="end" font-size="8.6" fill="#1a1a1a">8</text>
<path d="M290.8 442.5V483M287.0 442.5H294.6M287.0 483H294.6" stroke="#24468a" stroke-width="1.1" fill="none"/>
<path d="M323 420.7V468.9M319.2 420.7H326.8M319.2 468.9H326.8" stroke="#b71a45" stroke-width="1.1" fill="none"/>
<circle cx="290.8" cy="441.2" r="1.5" fill="#24468a"/>
<circle cx="290.8" cy="466.7" r="1.5" fill="#24468a"/>
<circle cx="290.8" cy="480.9" r="1.5" fill="#24468a"/>
<rect x="321.4" y="415.2" width="3.2" height="3.2" fill="#b71a45"/>
<circle cx="323" cy="455.9" r="1.5" fill="#b71a45"/>
<circle cx="323" cy="461.3" r="1.5" fill="#b71a45"/>
<path d="M290.8 510.1V512.7" stroke="#111" stroke-width="1"/>
<text transform="translate(293.40000000000003,519.7) rotate(-45)" text-anchor="end" font-size="8.9" fill="#1a1a1a">CD38<tspan font-size="6.1" dy="-3.4">WT</tspan></text>
<path d="M323 510.1V512.7" stroke="#111" stroke-width="1"/>
<text transform="translate(325.6,519.7) rotate(-45)" text-anchor="end" font-size="8.9" fill="#1a1a1a">CD38<tspan font-size="6.1" dy="-3.4">KO</tspan></text>
<text transform="translate(257.4,456.4) rotate(-90)" text-anchor="middle" font-size="10" fill="#1a1a1a" textLength="38" lengthAdjust="spacingAndGlyphs">OCR/ECAR</text>
<text x="307" y="401.9" text-anchor="middle" font-size="8.2" fill="#1a1a1a"><tspan font-style="italic">p</tspan> = 0.04</text>
<path d="M290.3 408.2V405.4H323.2V408.2" stroke="#111" stroke-width="1" fill="none"/>
<rect x="398.6" y="480.06" width="16.50" height="30.04" fill="#929cc8"/>
<rect x="431.1" y="459.18" width="16.50" height="50.92" fill="#d5867a"/>
<path d="M390.5 409.2V510.1H455" stroke="#111" stroke-width="1.1" fill="none"/>
<path d="M387.7 510.10H390.5" stroke="#111" stroke-width="1"/>
<text x="383.9" y="513.20" text-anchor="end" font-size="8.6" fill="#1a1a1a">0</text>
<path d="M387.7 490.40H390.5" stroke="#111" stroke-width="1"/>
<text x="383.9" y="493.50" text-anchor="end" font-size="8.6" fill="#1a1a1a">200</text>
<path d="M387.7 470.70H390.5" stroke="#111" stroke-width="1"/>
<text x="383.9" y="473.80" text-anchor="end" font-size="8.6" fill="#1a1a1a">400</text>
<path d="M387.7 451.00H390.5" stroke="#111" stroke-width="1"/>
<text x="383.9" y="454.10" text-anchor="end" font-size="8.6" fill="#1a1a1a">600</text>
<path d="M387.7 431.30H390.5" stroke="#111" stroke-width="1"/>
<text x="383.9" y="434.40" text-anchor="end" font-size="8.6" fill="#1a1a1a">800</text>
<path d="M387.7 411.60H390.5" stroke="#111" stroke-width="1"/>
<text x="383.9" y="414.70" text-anchor="end" font-size="8.6" fill="#1a1a1a">1000</text>
<path d="M406.4 456.6V504.4M402.59999999999997 456.6H410.2M402.59999999999997 504.4H410.2" stroke="#24468a" stroke-width="1.1" fill="none"/>
<path d="M439.4 433.3V484.6M435.59999999999997 433.3H443.2M435.59999999999997 484.6H443.2" stroke="#b71a45" stroke-width="1.1" fill="none"/>
<circle cx="406.4" cy="453.6" r="1.5" fill="#24468a"/>
<circle cx="404.4" cy="496.8" r="1.5" fill="#24468a"/>
<circle cx="408.7" cy="492.4" r="1.5" fill="#24468a"/>
<rect x="437.79999999999995" y="427.4" width="3.2" height="3.2" fill="#b71a45"/>
<rect x="435.4" y="472.59999999999997" width="3.2" height="3.2" fill="#b71a45"/>
<rect x="439.59999999999997" y="472.4" width="3.2" height="3.2" fill="#b71a45"/>
<path d="M406.4 510.1V512.7" stroke="#111" stroke-width="1"/>
<text transform="translate(409.0,519.7) rotate(-45)" text-anchor="end" font-size="8.9" fill="#1a1a1a">CD38<tspan font-size="6.1" dy="-3.4">WT</tspan></text>
<path d="M439.4 510.1V512.7" stroke="#111" stroke-width="1"/>
<text transform="translate(442.0,519.7) rotate(-45)" text-anchor="end" font-size="8.9" fill="#1a1a1a">CD38<tspan font-size="6.1" dy="-3.4">KO</tspan></text>
<text transform="translate(358.2,459) rotate(-90)" text-anchor="middle" font-size="10" fill="#1a1a1a" textLength="58.5" lengthAdjust="spacingAndGlyphs">SRC (pmol/min)</text>
<text x="423.2" y="406.9" text-anchor="middle" font-size="8.2" fill="#1a1a1a"><tspan font-style="italic">p</tspan> = 0.005</text>
<path d="M406.4 414.5V411.7H439.4V414.5" stroke="#111" stroke-width="1" fill="none"/>
</g>
<rect x="0" y="0" width="520" height="1.05" fill="#000"/><rect x="0" y="0" width="1.05" height="552" fill="#000"/><rect x="518.8" y="0" width="1.2" height="552" fill="#000"/><rect x="0" y="550.8" width="520" height="1.2" fill="#000"/>
</svg>
</body></html>
